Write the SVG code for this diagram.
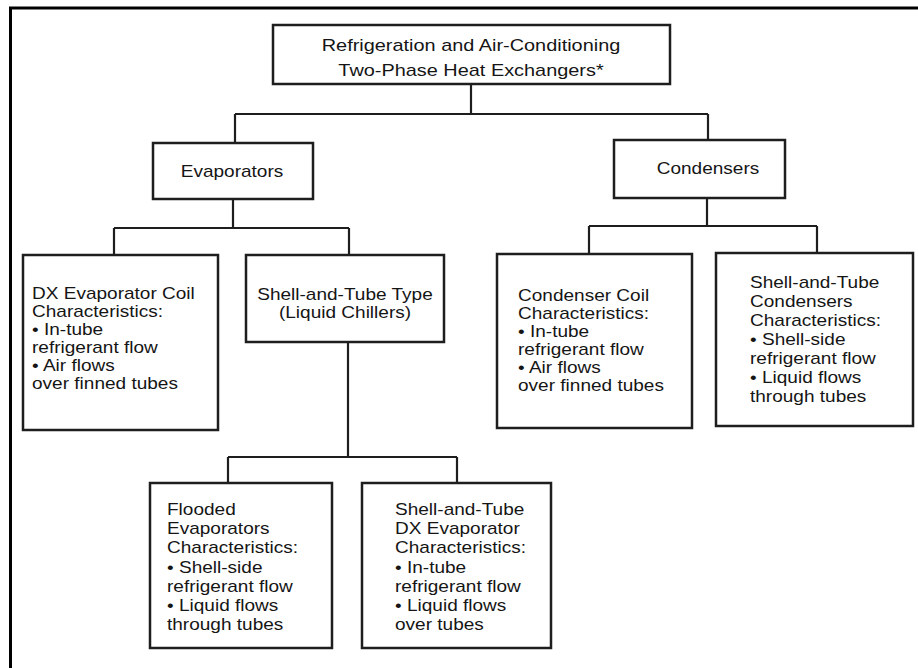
<svg xmlns="http://www.w3.org/2000/svg" width="918" height="668" viewBox="0 0 918 668">
<style>
.box{fill:#fff;stroke:#1e1e1e;stroke-width:2.5}
.ln{fill:none;stroke:#1e1e1e;stroke-width:2.2}
text{font-family:"Liberation Sans",Arial,sans-serif;font-size:17px;fill:#151515}
.c{text-anchor:middle}
</style>
<rect width="918" height="668" fill="#fff"/>
<g id="frame"><path d="M10.5 668 V8 H918" fill="none" stroke="#000" stroke-width="3"/></g>
<g id="connectors">
<path class="ln" d="M471 84 V114 M235 114 H708 M235 114 V143 M708 114 V140"/>
<path class="ln" d="M233 199 V228 M114 228 H349 M114 228 V255 M349 228 V254"/>
<path class="ln" d="M707 198 V226 M589 226 H817 M589 226 V254 M817 226 V253"/>
<path class="ln" d="M348 342 V457 M228 457 H457 M228 457 V483 M457 457 V483"/>
</g>
<g id="root"><rect class="box" x="273" y="25" width="397" height="59"/>
<text class="c" transform="translate(471,0) scale(1.17,1)"><tspan x="0" y="51">Refrigeration and Air-Conditioning</tspan><tspan x="0" y="76">Two-Phase Heat Exchangers*</tspan></text></g>
<g id="evaporators"><rect class="box" x="153" y="143" width="160" height="56"/>
<text class="c" transform="translate(232,0) scale(1.12,1)" x="0" y="177">Evaporators</text></g>
<g id="condensers"><rect class="box" x="614" y="140" width="171" height="58"/>
<text class="c" transform="translate(708,0) scale(1.12,1)" x="0" y="174">Condensers</text></g>
<g id="dx-coil"><rect class="box" x="23" y="255" width="195" height="175"/>
<text transform="translate(32,0) scale(1.12,1)"><tspan x="0" y="299">DX Evaporator Coil</tspan><tspan x="0" y="317">Characteristics:</tspan><tspan x="0" y="335">• In-tube</tspan><tspan x="0" y="353">refrigerant flow</tspan><tspan x="0" y="371">• Air flows</tspan><tspan x="0" y="389">over finned tubes</tspan></text></g>
<g id="shell-tube-type"><rect class="box" x="246" y="255" width="198" height="87"/>
<text class="c" transform="translate(345,0) scale(1.12,1)"><tspan x="0" y="300">Shell-and-Tube Type</tspan><tspan x="0" y="318">(Liquid Chillers)</tspan></text></g>
<g id="condenser-coil"><rect class="box" x="497" y="254" width="195" height="174"/>
<text transform="translate(518,0) scale(1.12,1)"><tspan x="0" y="301">Condenser Coil</tspan><tspan x="0" y="319">Characteristics:</tspan><tspan x="0" y="337">• In-tube</tspan><tspan x="0" y="355">refrigerant flow</tspan><tspan x="0" y="373">• Air flows</tspan><tspan x="0" y="391">over finned tubes</tspan></text></g>
<g id="shell-tube-condensers"><rect class="box" x="716" y="253" width="197" height="173"/>
<text transform="translate(750,0) scale(1.12,1)"><tspan x="0" y="288">Shell-and-Tube</tspan><tspan x="0" y="307">Condensers</tspan><tspan x="0" y="326">Characteristics:</tspan><tspan x="0" y="345">• Shell-side</tspan><tspan x="0" y="364">refrigerant flow</tspan><tspan x="0" y="383">• Liquid flows</tspan><tspan x="0" y="402">through tubes</tspan></text></g>
<g id="flooded"><rect class="box" x="150" y="483" width="182" height="165"/>
<text transform="translate(167,0) scale(1.12,1)"><tspan x="0" y="515">Flooded</tspan><tspan x="0" y="534">Evaporators</tspan><tspan x="0" y="553">Characteristics:</tspan><tspan x="0" y="573">• Shell-side</tspan><tspan x="0" y="592">refrigerant flow</tspan><tspan x="0" y="611">• Liquid flows</tspan><tspan x="0" y="630">through tubes</tspan></text></g>
<g id="shell-tube-dx"><rect class="box" x="362" y="483" width="189" height="165"/>
<text transform="translate(395,0) scale(1.12,1)"><tspan x="0" y="515">Shell-and-Tube</tspan><tspan x="0" y="534">DX Evaporator</tspan><tspan x="0" y="553">Characteristics:</tspan><tspan x="0" y="573">• In-tube</tspan><tspan x="0" y="592">refrigerant flow</tspan><tspan x="0" y="611">• Liquid flows</tspan><tspan x="0" y="630">over tubes</tspan></text></g>
</svg>
